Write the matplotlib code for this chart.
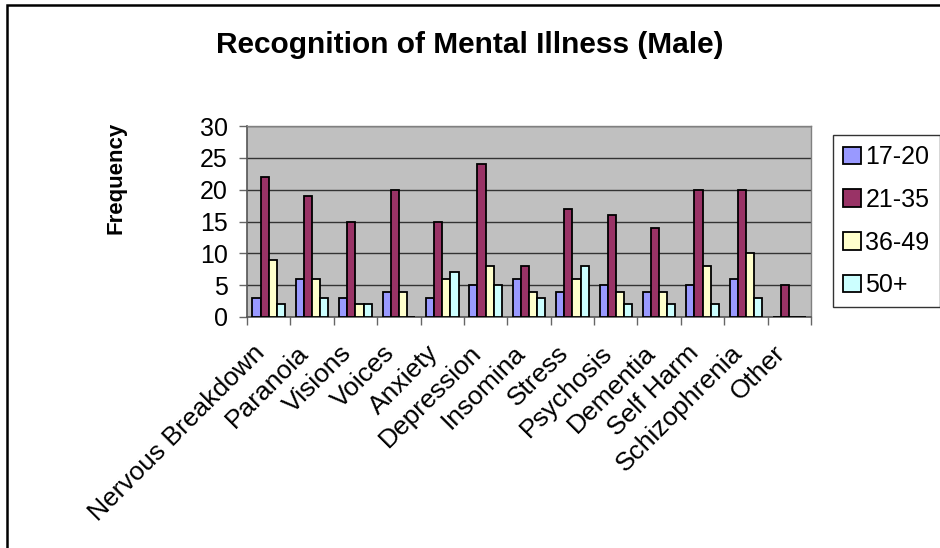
import matplotlib
matplotlib.use("Agg")
import matplotlib.pyplot as plt
import matplotlib.transforms as mtransforms
import numpy as np
from matplotlib.patches import Rectangle

plt.rcParams["font.family"] = ["Liberation Sans", "DejaVu Sans"]

categories = [
    "Nervous Breakdown", "Paranoia", "Visions", "Voices", "Anxiety", "Depression",
    "Insomina", "Stress", "Psychosis", "Dementia", "Self Harm", "Schizophrenia", "Other",
]
age_17_20 = [3, 6, 3, 4, 3, 5, 6, 4, 5, 4, 5, 6, 0]
age_21_35 = [22, 19, 15, 20, 15, 24, 8, 17, 16, 14, 20, 20, 5]
age_36_49 = [9, 6, 2, 4, 6, 8, 4, 6, 4, 4, 8, 10, 0]
age_50_plus = [2, 3, 2, 0, 7, 5, 3, 8, 2, 2, 2, 3, 0]
series_labels = ["17-20", "21-35", "36-49", "50+"]
series_colors = ["#9999FF", "#993366", "#FFFFCC", "#CCFFFF"]
y_ticks = [0, 5, 10, 15, 20, 25, 30]

fig = plt.figure(figsize=(9.4, 5.48), dpi=100)
ax = fig.add_axes([247 / 940, 1 - 317 / 548, 564 / 940, 191 / 548])
ax.set_facecolor("#C0C0C0")

x = np.arange(len(categories))
width = 0.1875
all_series = [age_17_20, age_21_35, age_36_49, age_50_plus]
handles = []
for i, (vals, color, label) in enumerate(zip(all_series, series_colors, series_labels)):
    offset = (i - 1.5) * width
    b = ax.bar(x + offset, vals, width, color=color, edgecolor="black", linewidth=1.3,
               label=label, zorder=3)
    handles.append(b)

ax.set_xlim(-0.5, len(categories) - 0.5)
ax.set_ylim(0, 30)
ax.set_yticks(y_ticks)
ax.set_yticklabels([str(t) for t in y_ticks], fontsize=18)
ax.yaxis.grid(True, color="#333333", linewidth=1.0, zorder=1)
ax.tick_params(axis="y", length=6, width=1, color="#666666", pad=8)

# ticks at category boundaries, labels at centers
ax.set_xticks(np.arange(len(categories) + 1) - 0.5)
ax.set_xticklabels([])
ax.tick_params(axis="x", which="major", length=6, width=1, color="#666666")
ax.set_xticks(x, minor=True)
ax.set_xticklabels(categories, minor=True, rotation=45, ha="right", va="top",
                   rotation_mode="anchor", fontsize=19)
ax.tick_params(axis="x", which="minor", length=0, pad=17)
shift = mtransforms.ScaledTranslation(-16 / 100, 0, fig.dpi_scale_trans)
for lbl in ax.get_xticklabels(minor=True):
    lbl.set_transform(lbl.get_transform() + shift)

for side in ["left", "bottom"]:
    ax.spines[side].set_color("#555555")
    ax.spines[side].set_linewidth(1.2)
for side in ["top", "right"]:
    ax.spines[side].set_color("#808080")
    ax.spines[side].set_linewidth(1.0)

fig.text(470 / 940, 1 - 45 / 548, "Recognition of Mental Illness (Male)",
         ha="center", va="center", fontsize=21.5, fontweight="bold")
fig.text(116 / 940, 1 - 178 / 548, "Frequency", ha="center", va="center",
         rotation=90, fontsize=16, fontweight="bold")

leg = fig.legend(handles=handles, labels=series_labels, loc="upper left",
                 bbox_to_anchor=(833 / 940, 1 - 135 / 548), fontsize=18,
                 frameon=True, fancybox=False, edgecolor="black", handlelength=0.7,
                 handleheight=0.7, handletextpad=0.2, labelspacing=0.75,
                 borderpad=0.4, borderaxespad=0)
leg.get_frame().set_linewidth(1.0)

fig.patches.append(Rectangle((7 / 940, -0.1), 1.2, 1.1 - 5 / 548, transform=fig.transFigure,
                             fill=False, edgecolor="black", linewidth=1.8))

fig.savefig("out.png", dpi=100)
